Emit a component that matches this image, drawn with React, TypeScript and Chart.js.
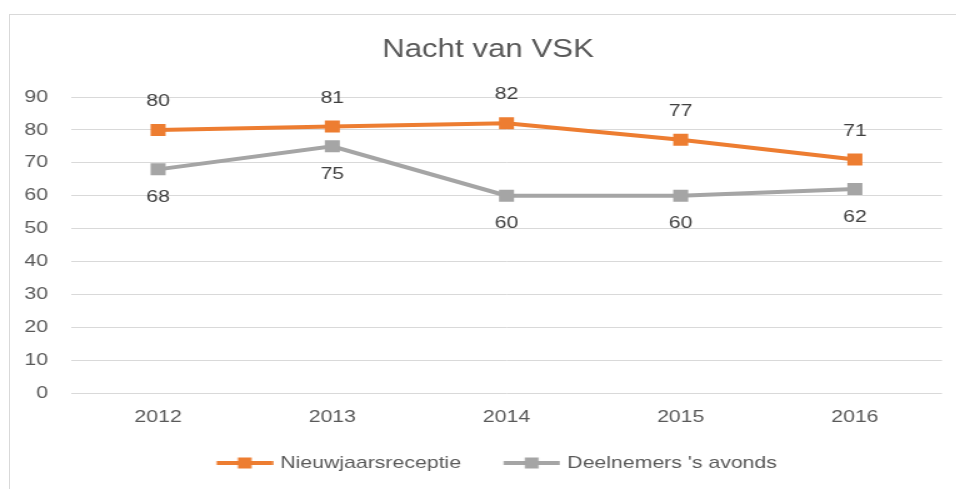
import React, { useEffect, useRef } from "react";
import { Chart, registerables } from "chart.js";

Chart.register(...registerables);

// ---- data ----
const years = ["2012", "2013", "2014", "2015", "2016"];
const nieuwjaarsreceptie = [80, 81, 82, 77, 71];
const deelnemersAvonds = [68, 75, 60, 60, 62];
const seriesNames = ["Nieuwjaarsreceptie", "Deelnemers 's avonds"];
const chartTitle = "Nacht van VSK";
const yMin = 0;
const yMax = 90;
const yStep = 10;

// ---- styles ----
const ORANGE = "#ED7D31";
const GRAY = "#A5A5A5";
const TEXT = "#595959";
const LABEL = "#404040";
const GRID = "#D9D9D9";
const FONT = "'Liberation Sans', Arial, sans-serif";
const CANVAS_W = 784; // drawing width, stretched horizontally by 1.25 like the reference
const CANVAS_H = 489;
const STRETCH = 1.25;

// legend swatch: box width B, visible line starts at offset A from the item start
const LEG_B = 56.5;
const LEG_A = 14;
const LEG_LINE = 45;

function makeSwatch(color: string): HTMLCanvasElement {
  const half = Math.max(LEG_B / 2 - LEG_A, LEG_A + LEG_LINE - LEG_B / 2);
  const w = Math.ceil(half * 2);
  const c = document.createElement("canvas");
  c.width = w;
  c.height = 12;
  const ctx = c.getContext("2d")!;
  const x0 = w / 2 - (LEG_B / 2 - LEG_A);
  ctx.strokeStyle = color;
  ctx.lineWidth = 4;
  ctx.beginPath();
  ctx.moveTo(x0, 6);
  ctx.lineTo(x0 + LEG_LINE, 6);
  ctx.stroke();
  ctx.fillStyle = color;
  ctx.fillRect(x0 + LEG_LINE / 2 - 5.5, 0.5, 11, 11);
  return c;
}

const labelOffsets = [-28.5, 28];

const dataLabelPlugin = {
  id: "pointValueLabels",
  afterDatasetsDraw(chart: any) {
    const ctx = chart.ctx as CanvasRenderingContext2D;
    chart.data.datasets.forEach((ds: any, i: number) => {
      const meta = chart.getDatasetMeta(i);
      meta.data.forEach((pt: any, j: number) => {
        ctx.save();
        ctx.font = `17px ${FONT}`;
        ctx.fillStyle = LABEL;
        ctx.textAlign = "center";
        ctx.textBaseline = "middle";
        ctx.fillText(String(ds.data[j]), pt.x, pt.y + labelOffsets[i]);
        ctx.restore();
      });
    });
  },
};

export default function App() {
  const ref = useRef<HTMLCanvasElement | null>(null);

  useEffect(() => {
    if (!ref.current) return;
    const swatches = [makeSwatch(ORANGE), makeSwatch(GRAY)];
    const chart = new Chart(ref.current, {
      type: "line",
      data: {
        labels: years,
        datasets: [
          {
            label: seriesNames[0],
            data: nieuwjaarsreceptie,
            borderColor: ORANGE,
            backgroundColor: ORANGE,
            borderWidth: 4,
            pointStyle: "rect",
            pointRadius: 8.5,
            pointBorderWidth: 0,
            pointBackgroundColor: ORANGE,
            tension: 0,
          },
          {
            label: seriesNames[1],
            data: deelnemersAvonds,
            borderColor: GRAY,
            backgroundColor: GRAY,
            borderWidth: 4,
            pointStyle: "rect",
            pointRadius: 8.5,
            pointBorderWidth: 0,
            pointBackgroundColor: GRAY,
            tension: 0,
          },
        ],
      },
      options: {
        responsive: false,
        animation: false,
        layout: { padding: { top: 0, bottom: 7.5, left: 0, right: 3.2 } },
        scales: {
          x: {
            type: "category",
            offset: true,
            grid: { display: false, drawTicks: false },
            border: { display: false },
            ticks: { color: TEXT, font: { size: 17, family: FONT }, padding: 14 },
            afterFit: (axis: any) => {
              axis.height = 41.5;
            },
          },
          y: {
            min: yMin,
            max: yMax,
            grid: { color: GRID, drawTicks: false, lineWidth: 1 },
            border: { display: false },
            ticks: { stepSize: yStep, color: TEXT, font: { size: 17, family: FONT }, padding: 18.4 },
            afterFit: (axis: any) => {
              axis.width = 71 / STRETCH;
            },
          },
          yRight: {
            position: "right",
            grid: { display: false, drawTicks: false },
            border: { display: false },
            ticks: { display: false },
            afterFit: (axis: any) => {
              axis.width = 27.2;
            },
          },
        },
        plugins: {
          title: {
            display: true,
            text: chartTitle,
            color: TEXT,
            font: { size: 25, family: FONT, weight: "normal" },
            padding: { top: 35, bottom: 32 },
          },
          legend: {
            position: "bottom",
            labels: {
              usePointStyle: true,
              pointStyleWidth: LEG_B,
              color: TEXT,
              font: { size: 17, family: FONT },
              padding: 20,
              generateLabels: (c: any) =>
                c.data.datasets.map((ds: any, i: number) => ({
                  text: ds.label,
                  fillStyle: ds.borderColor,
                  strokeStyle: ds.borderColor,
                  lineWidth: 0,
                  pointStyle: swatches[i],
                  hidden: false,
                  datasetIndex: i,
                  fontColor: TEXT,
                })),
            },
          },
          tooltip: { enabled: false },
        },
      },
      plugins: [dataLabelPlugin],
    });
    return () => chart.destroy();
  }, []);

  return (
    <div
      style={{
        position: "fixed",
        left: 0,
        top: 0,
        width: 956,
        height: 489,
        overflow: "hidden",
        background: "#ffffff",
      }}
    >
      <canvas
        ref={ref}
        width={CANVAS_W}
        height={CANVAS_H}
        style={{ width: CANVAS_W * STRETCH, height: CANVAS_H, display: "block" }}
      />
      <div
        style={{
          position: "absolute",
          left: 9,
          top: 14,
          width: 2000,
          height: 2000,
          borderLeft: "1px solid #D9D9D9",
          borderTop: "1px solid #D9D9D9",
          pointerEvents: "none",
        }}
      />
    </div>
  );
}
